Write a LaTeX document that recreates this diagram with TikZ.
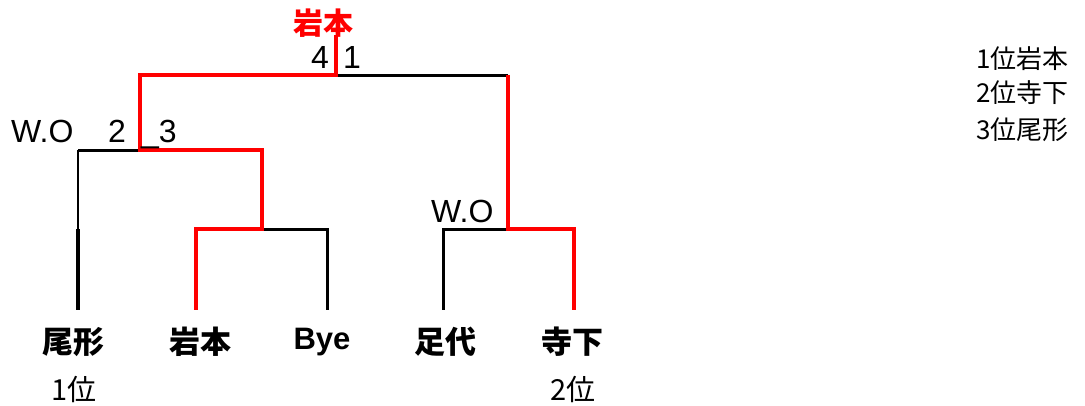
\documentclass[tikz,border=0pt]{standalone}
\usepackage{fontspec}
\setmainfont{Liberation Sans}
\newfontfamily\jp{Noto Sans CJK JP}
\definecolor{wred}{RGB}{255,0,0}
\tikzset{
  blk/.style={draw=black,line width=3pt},
  thin/.style={draw=black,line width=2pt},
  redl/.style={draw=wred,line width=4pt},
  leaf/.style={font=\jp\bfseries\fontsize{31}{31}\selectfont,inner sep=0pt},
  score/.style={font=\fontsize{32}{32}\selectfont,inner sep=0pt},
  rank/.style={font=\jp\fontsize{29}{29}\selectfont,inner sep=0pt},
  legend/.style={font=\jp\fontsize{26}{26}\selectfont,inner sep=0pt,anchor=west}
}
\begin{document}
\begin{tikzpicture}[x=1pt,y=-1pt]
\useasboundingbox (0,0) rectangle (1085,405);
% bracket points
\coordinate (top) at (336,35);
\coordinate (root) at (336,75);
\coordinate (L2) at (140,75);
\coordinate (R2) at (508,75);
\coordinate (L2b) at (140,150);
\coordinate (LL) at (78,150);
\coordinate (LLm) at (78,229);
\coordinate (LLb) at (78,310);
\coordinate (LR) at (262,150);
\coordinate (LRb) at (262,229);
\coordinate (BL) at (196,229);
\coordinate (BLb) at (196,310);
\coordinate (BR) at (327,229);
\coordinate (BRb) at (327,310);
\coordinate (R2b) at (508,229);
\coordinate (RL) at (443,229);
\coordinate (RLb) at (443,310);
\coordinate (RR) at (574,229);
\coordinate (RRb) at (574,310);
% black lines
\draw[blk] (root) -- (R2);
\draw[blk] (L2b) -- (LL);
\draw[thin] (LL) -- (LLm);
\draw[line width=4pt] (LLm) -- (LLb);
\draw[blk] (LRb) -- (BR) -- (BRb);
\draw[blk] (R2b) -- (RL) -- (RLb);
% red lines
\draw[redl] (top) -- (root) -- (L2) -- (L2b) -- (LR) -- (LRb) -- (BL) -- (BLb);
\draw[redl] (R2) -- (R2b) -- (RR) -- (RRb);
% players
\node[leaf] (p1) at (73,342) {尾形};
\node[leaf] (p2) at (200,342) {岩本};
\node[leaf,font=\bfseries\fontsize{31}{31}\selectfont] (p3) at (322,342) {Bye};
\node[leaf] (p4) at (445,342) {足代};
\node[leaf] (p5) at (572,342) {寺下};
\node[rank] (r1) at (74,389) {1位};
\node[rank] (r2) at (573,389) {2位};
% scores
\node[score,anchor=base west] (wo1) at (11,142) {W.O};
\node[score,anchor=base] (s2) at (117,142) {2};
\node[score,anchor=base west] (s3) at (141,142) {\_3};
\node[score,anchor=base east] (s4) at (329,68) {4};
\node[score,anchor=base west] (s1) at (343,68) {1};
\node[score,anchor=base west] (wo2) at (431,222) {W.O};
\node[font=\jp\bfseries\fontsize{30}{30}\selectfont,text=wred,inner sep=0pt] (win) at (323,23) {岩本};
% legend
\node[legend] (g1) at (976,59) {1位岩本};
\node[legend] (g2) at (976,93) {2位寺下};
\node[legend] (g3) at (976,130) {3位尾形};
\end{tikzpicture}
\end{document}
